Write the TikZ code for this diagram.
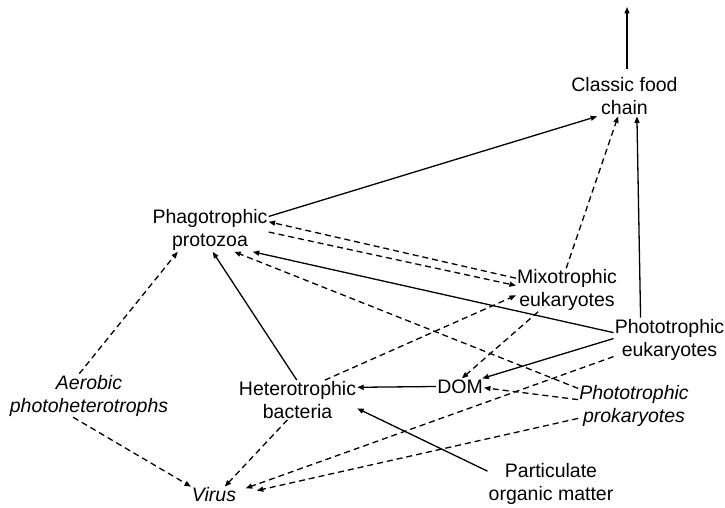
\documentclass[tikz,border=0pt]{standalone}
\usepackage{fontspec}
\setmainfont{Liberation Sans}
\usetikzlibrary{arrows.meta}
\tikzset{
    %Define standard arrow tip
    >={Triangle[length=6.5pt,width=5pt]},
    %Define style for organism labels
    organism/.style={
           inner sep=1pt,
           align=center,
           font=\fontsize{19.5}{23}\selectfont},
    group/.style={
           organism,
           font=\fontsize{19.5}{23}\selectfont\itshape},
    % Define arrow style
    feed/.style={
           ->,
           line width=1.3pt},
    leak/.style={
           ->,
           line width=1.3pt,
           dash pattern=on 6pt off 4pt},
}
\begin{document}
\begin{tikzpicture}[x=1pt, y=-1pt]
 \useasboundingbox (0,0) rectangle (725,508);
 %nodes
 \node[organism] (classic) at (624.5,96.5) {Classic food\\chain};
 \node[organism] (phago) at (210,230) {Phagotrophic\\protozoa};
 \node[organism] (mixo) at (567,290) {Mixotrophic\\eukaryotes};
 \node[organism] (photoeuk) at (669.5,339.5) {Phototrophic\\eukaryotes};
 \node[organism] (dom) at (460,386.5) {DOM};
 \node[organism] (hetero) at (297.5,400) {Heterotrophic\\bacteria};
 \node[group] (photopro) at (634,405.5) {Phototrophic\\prokaryotes};
 \node[group] (aerobic) at (89,395.5) {Aerobic\\photoheterotrophs};
 \node[group] (virus) at (214,495) {Virus};
 \node[organism] (pom) at (551,483.5) {Particulate\\organic matter};
 \coordinate (top) at (627,7);
 %edges
 \draw[feed, shorten <=8pt] (classic.north -| top) -- (top);
 \draw[feed] (phago.13) -- (classic.216);
 \draw[leak] (mixo.167) -- (phago.8);
 \draw[leak] (phago.-2) -- (mixo.175);
 \draw[feed] (photoeuk.173) -- (phago.-27);
 \draw[leak] (photopro.163) -- (phago.-42);
 \draw[leak] (mixo.92) -- (classic.-108);
 \draw[feed] (photoeuk.143) -- (classic.-58);
 \draw[feed] (hetero.92) -- (phago.-83);
 \draw[leak] (hetero.36) -- (mixo.186);
 \draw[leak] (mixo.217) -- (dom.77);
 \draw[feed] (photoeuk.179) -- (dom.20);
 \draw[feed] (dom.180) -- (hetero.12);
 \draw[leak] (photopro.174) -- (dom.-3);
 \draw[feed] (pom.169) -- (hetero.-8);
 \draw[leak, shorten >=9pt] (photoeuk.197) -- (virus.9);
 \draw[leak, shorten >=20pt] (photopro.193) -- (virus.0);
 \draw[leak] (hetero.243) -- (virus.38);
 \draw[leak] (aerobic.234) -- (virus.160);
 \draw[leak] (aerobic.114) -- (phago.214);
\end{tikzpicture}
\end{document}
